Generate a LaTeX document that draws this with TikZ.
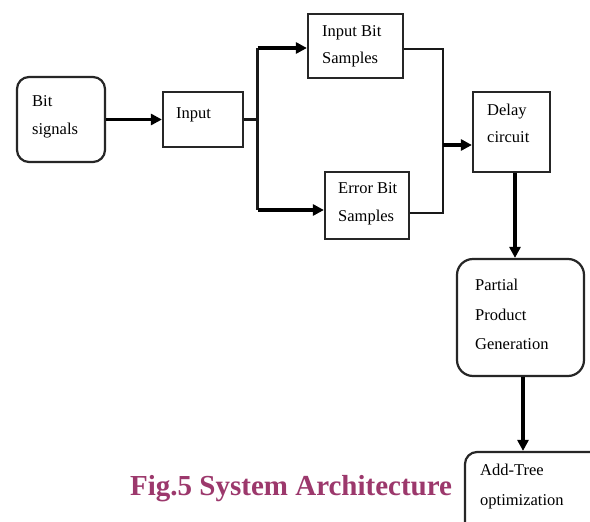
\documentclass[tikz,border=0pt]{standalone}
\usepackage{fontspec}
\setmainfont{Liberation Serif}
\usetikzlibrary{arrows.meta,calc}
\definecolor{capcol}{RGB}{156,56,108}
\tikzset{
  blk/.style={draw=black!85, line width=2.2pt, inner sep=0pt, minimum width=#1},
  blk/.default=10pt,
  txt/.style={anchor=west, align=left, inner sep=0pt, font=\fontsize{16.5}{27.5}\selectfont},
  wire/.style={draw=black!90, line width=2.2pt},
  bigarrow/.style={draw=black, line width=3.8pt, -{Triangle[length=11pt,width=11pt]}},
  midarrow/.style={draw=black, line width=3.4pt, -{Triangle[length=11pt,width=11pt]}},
}
\begin{document}
\begin{tikzpicture}[x=1pt,y=-1pt]
  \clip (0,0) rectangle (590,522);
  \fill[white] (0,0) rectangle (590,522);

  % blocks
  \node[blk=88pt, minimum height=85pt, rounded corners=12pt] (bits) at (61,119.5) {};
  \node[blk=80pt, minimum height=55pt] (input) at (203,119.5) {};
  \node[blk=95pt, minimum height=64pt] (ibs) at (355.5,46) {};
  \node[blk=84pt, minimum height=67pt] (ebs) at (367,205.5) {};
  \node[blk=77pt, minimum height=80pt] (delay) at (511.5,132) {};
  \node[blk=127pt, minimum height=117pt, rounded corners=16pt] (ppg) at (520.5,317.5) {};
  \node[blk=160pt, minimum height=120pt, rounded corners=12pt] (addtree) at (545,512) {};

  % block texts
  \node[txt] (tbits) at (32,117) {Bit\\signals};
  \node[txt] (tinput) at (176,115) {Input};
  \node[txt] (tibs) at (322,46.5) {Input Bit\\Samples};
  \node[txt] (tebs) at (338,204) {Error Bit\\Samples};
  \node[txt] (tdelay) at (487,123.5) {Delay\\circuit};
  \node[txt, font=\fontsize{16.5}{29.5}\selectfont] (tppg) at (475,314.5) {Partial\\Product\\Generation};
  \node[txt, font=\fontsize{16.5}{30}\selectfont] (tadd) at (480,487) {Add-Tree\\optimization};

  % caption
  \node[anchor=base west, inner sep=0pt, text=capcol,
        font=\fontsize{29}{34}\selectfont\bfseries] (cap) at (130,495)
        {Fig.5 System Architecture};

  % connectors
  \coordinate (split) at (257.5,119.5);
  \coordinate (join) at (443,145);
  \draw[bigarrow] (bits.east) -- (input.west);
  \draw[wire] (input.east) -- (split);
  \draw[wire] ($(split |- ibs.west)+(0,2)$) -- ($(split |- ebs.west)+(0,4.5)$);
  \draw[bigarrow] ($(split |- ibs.west)+(0,2)$) -- ($(ibs.west)+(0,2)$);
  \draw[bigarrow] ($(split |- ebs.west)+(0,4.5)$) -- ($(ebs.west)+(0,4.5)$);
  \draw[wire] ($(ibs.east)+(0,3)$) -| (join) |- ($(ebs.east)+(0,7.5)$);
  \draw[bigarrow] (join) -- (join -| delay.west);
  \draw[bigarrow] ($(delay.south)+(3.5,0)$) -- ($(delay.south |- ppg.north)+(3.5,0)$);
  \draw[midarrow] ($(ppg.south)+(2.5,0)$) -- ($(ppg.south |- addtree.north)+(2.5,0)$);
\end{tikzpicture}
\end{document}
